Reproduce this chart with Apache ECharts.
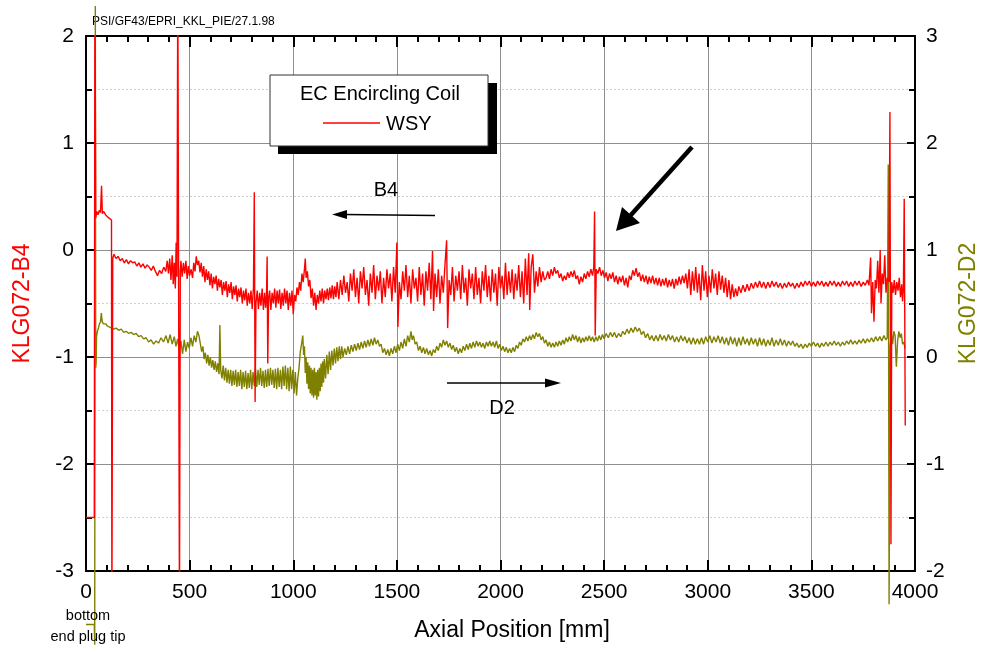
<!DOCTYPE html>
<html>
<head>
<meta charset="utf-8">
<script src="https://cdn.jsdelivr.net/npm/echarts@6/dist/echarts.min.js"></script>
<style>
html,body{margin:0;padding:0;background:#fff;}
#main{width:984px;height:652px;}
</style>
</head>
<body>
<div id="main"></div>
<script>
// ---- axis tick settings ----
const xTicks = [0, 500, 1000, 1500, 2000, 2500, 3000, 3500, 4000];
const leftTicks = [-3, -2, -1, 0, 1, 2];
const rightTicks = [-2, -1, 0, 1, 2, 3];

// ---- series: KLG072-B4 (left axis), [axial position mm, value] ----
const b4 = [
[0,-2.5],[40,-2.5],[43,2.6],[47,0.30],[52,0.36],[58,0.33],[64,0.37],[70,0.35],[75,0.6],[79,0.34],[86,0.36],[94,0.33],[102,0.32],[110,0.30],[118,0.31],[123,0.28],[125,-3.4],[129,-0.08],[135,-0.04],
[145,-0.08],[155,-0.06],[165,-0.10],[175,-0.08],[185,-0.12],[195,-0.09],[205,-0.13],[215,-0.10],[225,-0.12],[235,-0.11],[245,-0.15],[255,-0.12],[265,-0.16],[275,-0.13],[285,-0.17],[295,-0.14],[305,-0.16],[315,-0.19],[325,-0.15],[335,-0.20],[345,-0.24],[355,-0.19],[365,-0.22],[375,-0.16],[385,-0.20],[392,-0.10],[398,-0.22],[404,-0.08],[410,-0.28],[416,-0.05],[421,-0.32],[426,-0.12],[431,-0.36],[435,0.07],[439,-0.25],[443,2.6],[451,-3.4],[455,-0.2],
[458,-0.10],[464,-0.25],[470,-0.12],[476,-0.22],[482,-0.10],[488,-0.27],[494,-0.15],[500,-0.24],[507,-0.18],[514,-0.26],[520,-0.12],[526,-0.20],[532,-0.06],[538,-0.14],[544,-0.10],[550,-0.21],[556,-0.12],[562,-0.25],[568,-0.15],[574,-0.30],[580,-0.18],[586,-0.28],[592,-0.20],[598,-0.33],[604,-0.22],[610,-0.36],[616,-0.25],[622,-0.32],[628,-0.24],[634,-0.38],[640,-0.27],[646,-0.35],[652,-0.28],[658,-0.42],[664,-0.30],[670,-0.38],[676,-0.29],[682,-0.44],[688,-0.32],[694,-0.40],[700,-0.30],[706,-0.46],[712,-0.34],[718,-0.42],[724,-0.33],[730,-0.48],[736,-0.36],[742,-0.44],[748,-0.35],[754,-0.50],[760,-0.38],[766,-0.47],[772,-0.36],[778,-0.52],[784,-0.40],[790,-0.50],[796,-0.38],[802,-0.55],[808,-0.35],
[812,0.54],[816,-1.42],[820,-0.5],
[826,-0.38],[832,-0.55],[838,-0.40],[844,-0.52],[850,-0.36],[856,-0.56],[862,-0.40],[867,-0.54],[871,-0.42],[874,-0.06],[877,-1.06],[881,-0.45],[886,-0.38],[892,-0.56],[898,-0.40],[904,-0.50],[910,-0.36],[916,-0.54],[922,-0.38],[928,-0.50],[934,-0.37],[940,-0.55],[946,-0.40],[952,-0.52],[958,-0.36],[964,-0.50],[970,-0.38],[976,-0.56],[982,-0.40],[988,-0.52],[994,-0.38],[1000,-0.60],[1006,-0.42],[1012,-0.48],[1018,-0.35],[1024,-0.42],[1030,-0.30],[1036,-0.38],[1042,-0.22],[1048,-0.30],[1054,-0.18],[1058,-0.08],[1062,-0.26],[1068,-0.20],[1074,-0.34],[1080,-0.28],[1086,-0.45],[1092,-0.36],[1098,-0.52],[1104,-0.40],[1110,-0.56],[1116,-0.42],[1122,-0.50],[1128,-0.38],[1134,-0.48],[1140,-0.36],[1146,-0.50],[1152,-0.38],[1158,-0.46],[1164,-0.36],[1170,-0.47],[1176,-0.35],[1182,-0.45],[1188,-0.33],[1194,-0.46],[1200,-0.34],[1206,-0.44],
[1212,-0.30],[1220,-0.46],[1228,-0.28],[1236,-0.42],[1244,-0.24],[1252,-0.40],[1260,-0.30],[1268,-0.48],[1276,-0.22],[1284,-0.38],[1292,-0.18],[1300,-0.44],[1308,-0.26],[1316,-0.50],[1324,-0.20],[1332,-0.36],[1340,-0.16],[1348,-0.42],[1356,-0.28],[1364,-0.52],[1372,-0.22],[1380,-0.40],[1388,-0.14],[1396,-0.46],[1404,-0.24],[1412,-0.38],[1420,-0.20],[1428,-0.50],[1436,-0.26],[1444,-0.44],[1452,-0.18],[1460,-0.36],[1468,-0.22],[1476,-0.48],[1484,-0.16],[1492,-0.40],[1500,0.07],[1505,-0.72],[1512,-0.30],[1520,-0.46],[1528,-0.20],[1536,-0.38],[1544,-0.14],[1552,-0.44],[1560,-0.24],[1568,-0.50],[1576,-0.18],[1584,-0.36],[1592,-0.26],[1600,-0.48],[1608,-0.16],[1616,-0.42],[1624,-0.22],[1632,-0.52],[1640,-0.20],[1648,-0.38],[1656,-0.12],[1664,-0.46],[1672,-0.01],[1677,-0.57],[1684,-0.22],[1692,-0.44],[1700,-0.18],[1708,-0.50],[1716,-0.24],[1724,-0.40],[1732,-0.14],[1740,0.09],[1745,-0.73],[1752,-0.28],[1760,-0.42],[1768,-0.16],[1776,-0.48],[1784,-0.24],[1792,-0.38],[1800,-0.20],[1808,-0.46],[1816,-0.14],[1824,-0.40],[1832,-0.26],[1840,-0.52],[1848,-0.18],[1856,-0.36],[1864,-0.22],[1872,-0.46],[1880,-0.16],[1888,-0.42],[1896,-0.26],[1904,-0.50],[1912,-0.20],[1920,-0.38],[1928,-0.14],[1936,-0.44],[1944,-0.24],[1952,-0.48],[1960,-0.18],[1968,-0.40],[1976,-0.22],[1984,-0.52],[1992,-0.16],[2000,-0.36],[2008,-0.24],[2016,-0.46],[2024,-0.12],[2032,-0.42],[2040,-0.20],[2048,-0.40],[2056,-0.18],[2064,-0.46],[2072,-0.22],[2080,-0.38],[2088,-0.14],[2096,-0.44],[2104,-0.20],[2112,-0.50],[2120,-0.08],[2128,-0.42],[2136,-0.03],[2141,-0.56],[2148,-0.16],[2156,-0.04],[2164,-0.40],[2172,-0.20],[2180,-0.34],[2188,-0.16],[2196,-0.30],[2204,-0.20],[2212,-0.28],
[2220,-0.26],[2228,-0.20],[2236,-0.27],[2244,-0.18],[2252,-0.24],[2260,-0.16],[2268,-0.22],[2276,-0.19],[2284,-0.26],[2292,-0.22],[2300,-0.29],[2308,-0.24],[2316,-0.28],[2324,-0.21],[2332,-0.26],[2340,-0.20],[2348,-0.25],[2356,-0.19],[2364,-0.27],[2372,-0.24],[2380,-0.32],[2388,-0.25],[2396,-0.30],[2404,-0.22],[2412,-0.27],[2420,-0.20],[2428,-0.25],[2436,-0.18],[2444,-0.24],[2450,-0.16],[2454,0.36],[2457,-0.80],[2462,-0.18],[2470,-0.22],[2478,-0.16],[2486,-0.24],[2494,-0.19],[2502,-0.26],[2510,-0.21],[2518,-0.29],[2526,-0.22],[2534,-0.27],[2542,-0.21],[2550,-0.30],[2558,-0.24],[2566,-0.32],[2574,-0.25],[2582,-0.30],[2590,-0.24],[2598,-0.33],[2606,-0.26],[2614,-0.35],[2622,-0.24],[2630,-0.28],[2638,-0.19],[2646,-0.24],[2654,-0.17],[2662,-0.25],[2670,-0.21],[2678,-0.29],[2686,-0.23],[2694,-0.30],[2702,-0.24],[2710,-0.32],[2718,-0.25],[2726,-0.31],[2734,-0.24],[2742,-0.32],[2750,-0.26],[2758,-0.33],[2766,-0.26],[2774,-0.34],[2782,-0.27],[2790,-0.33],[2798,-0.26],[2806,-0.35],[2814,-0.28],[2822,-0.34],[2830,-0.27],[2838,-0.36],[2846,-0.27],[2854,-0.33],[2862,-0.25],[2870,-0.32],[2878,-0.24],[2886,-0.31],[2894,-0.22],[2902,-0.36],[2910,-0.18],[2918,-0.42],[2926,-0.20],[2934,-0.38],[2942,-0.16],[2950,-0.40],[2958,-0.22],[2966,-0.47],[2974,-0.14],[2982,-0.38],[2990,-0.20],[2998,-0.44],[3006,-0.24],[3014,-0.40],[3022,-0.18],[3030,-0.36],[3038,-0.22],[3046,-0.42],[3054,-0.20],[3062,-0.37],[3070,-0.24],[3078,-0.40],[3086,-0.26],[3094,-0.44],[3102,-0.28],[3110,-0.46],[3118,-0.32],[3126,-0.44],[3134,-0.36],[3142,-0.43],[3150,-0.34],[3160,-0.40],[3170,-0.33],[3180,-0.39],[3190,-0.32],[3200,-0.38],[3210,-0.31],[3220,-0.36],[3230,-0.30],[3240,-0.35],[3250,-0.29],[3260,-0.35],[3270,-0.30],[3280,-0.36],[3290,-0.30],[3300,-0.35],[3310,-0.29],[3320,-0.34],[3330,-0.30],[3340,-0.35],[3350,-0.31],[3360,-0.36],[3370,-0.31],[3380,-0.35],[3390,-0.30],[3400,-0.34],[3410,-0.31],[3420,-0.36],[3430,-0.31],[3440,-0.35],[3450,-0.30],[3460,-0.34],[3470,-0.29],[3480,-0.33],[3490,-0.29],[3500,-0.34],[3510,-0.30],[3520,-0.34],[3530,-0.29],[3540,-0.33],[3550,-0.29],[3560,-0.34],[3570,-0.30],[3580,-0.34],[3590,-0.29],[3600,-0.33],[3610,-0.29],[3620,-0.34],[3630,-0.30],[3640,-0.34],[3650,-0.29],[3660,-0.33],[3670,-0.29],[3680,-0.34],[3690,-0.30],[3700,-0.34],[3710,-0.29],[3720,-0.33],[3730,-0.29],[3740,-0.34],[3750,-0.30],[3760,-0.33],[3770,-0.28],[3778,-0.33],[3786,-0.07],[3790,-0.59],[3796,-0.30],[3802,-0.67],[3808,-0.28],[3814,-0.36],[3820,-0.10],[3826,-0.40],[3832,0.0],[3836,-0.50],[3842,-0.22],[3848,-0.32],[3854,-0.05],[3860,-0.40],[3866,-0.26],[3874,-0.30],[3879,1.29],[3884,-2.75],[3888,-0.30],[3894,-0.40],[3900,-0.28],[3906,-0.42],[3912,-0.30],[3918,-0.38],[3924,-0.26],[3930,-0.44],[3936,-0.32],[3940,-0.48],[3944,-0.36],[3948,0.48],[3953,-1.64]
];

// ---- series: KLG072-D2 (right axis), [axial position mm, value] ----
const d2 = [
[0,-2.5],[40,-2.5],[42,-2.69],[45,3.28],[47,-0.1],[49,-0.05],[51,0.19],[55,0.24],[60,0.27],[65,0.31],[70,0.33],[74,0.41],[78,0.33],[84,0.31],[90,0.30],[96,0.31],[102,0.29],[108,0.30],[114,0.28],
[122,0.29],[134,0.26],[146,0.27],[158,0.25],[170,0.26],[182,0.23],[194,0.24],[206,0.22],[218,0.23],[230,0.21],[242,0.22],[254,0.19],[266,0.20],[278,0.17],[290,0.18],[302,0.14],[314,0.16],[326,0.12],[338,0.15],[350,0.13],[362,0.18],[374,0.14],[386,0.20],[396,0.13],[406,0.21],[416,0.12],[426,0.19],[434,0.10],[442,0.17],[450,0.06],[458,0.15],[466,0.03],[474,0.16],[482,0.05],[490,0.14],[498,0.08],[506,0.18],[514,0.10],[522,0.20],[530,0.14],[538,0.24],[545,0.20],[552,0.12],[558,0.05],[564,0.10],[570,-0.02],[576,0.04],[582,-0.06],[588,0.02],[594,-0.08],[600,0.0],[606,-0.10],[612,-0.03],[618,-0.12],[624,-0.04],[630,-0.14],[636,-0.06],[642,-0.16],[646,0.30],[650,-0.12],[656,-0.20],[662,-0.08],[668,-0.22],[674,-0.10],[680,-0.24],[686,-0.12],[692,-0.25],[698,-0.12],[704,-0.27],[710,-0.13],[716,-0.26],[722,-0.12],[728,-0.28],[734,-0.14],[740,-0.27],[746,-0.12],[752,-0.30],[758,-0.14],[764,-0.28],[770,-0.13],[776,-0.30],[782,-0.15],[788,-0.29],[794,-0.12],[800,-0.30],[806,-0.14],[812,-0.27],[818,-0.11],[824,-0.28],[830,-0.12],[836,-0.26],[842,-0.10],[848,-0.27],[854,-0.13],[860,-0.29],[866,-0.12],[872,-0.28],[878,-0.11],[884,-0.27],[890,-0.10],[896,-0.26],[902,-0.12],[908,-0.29],[914,-0.11],[920,-0.30],[926,-0.10],[932,-0.28],[938,-0.12],[944,-0.30],[950,-0.09],[956,-0.27],[962,-0.08],[968,-0.30],[974,-0.10],[980,-0.32],[986,-0.09],[992,-0.30],[998,-0.12],[1004,-0.34],[1010,-0.14],[1016,-0.36],[1022,-0.20],[1028,-0.10],[1034,0.05],[1040,0.12],[1046,0.20],[1050,0.02],[1054,0.10],[1058,-0.15],[1062,0.0],[1066,-0.25],[1070,-0.05],[1074,-0.30],[1078,-0.08],[1082,-0.34],[1086,-0.10],[1090,-0.36],[1094,-0.12],[1098,-0.38],[1102,-0.10],[1106,-0.36],[1110,-0.14],[1114,-0.40],[1118,-0.12],[1122,-0.37],[1126,-0.10],[1130,-0.32],[1134,-0.06],[1138,-0.28],[1142,-0.04],[1146,-0.24],[1150,-0.02],[1156,-0.20],[1162,0.02],[1168,-0.16],[1174,0.05],[1180,-0.12],[1186,0.06],[1192,-0.08],[1198,0.08],[1204,-0.06],[1210,0.09],[1216,-0.04],[1222,0.10],[1228,-0.02],[1234,0.10],[1240,0.0],[1248,0.08],[1256,0.02],[1264,0.10],[1272,0.03],[1280,0.11],[1288,0.05],[1296,0.12],[1304,0.06],[1312,0.13],[1320,0.07],[1328,0.14],[1336,0.08],[1344,0.15],[1352,0.09],[1360,0.16],[1368,0.10],[1376,0.17],[1384,0.11],[1392,0.18],[1400,0.12],[1408,0.16],[1416,0.10],[1424,0.12],[1432,0.04],[1440,0.08],[1448,0.02],[1456,0.07],[1464,0.01],[1472,0.08],[1480,0.03],[1488,0.10],[1496,0.04],[1504,0.12],[1512,0.06],[1520,0.14],[1528,0.08],[1536,0.17],[1544,0.10],[1552,0.20],[1560,0.14],[1568,0.24],[1574,0.16],[1580,0.20],[1588,0.12],[1596,0.14],[1604,0.06],[1612,0.10],[1620,0.04],[1628,0.09],[1636,0.03],[1644,0.08],[1652,0.02],[1660,0.06],[1668,0.01],[1676,0.07],[1684,0.04],[1692,0.10],[1700,0.06],[1708,0.13],[1716,0.09],[1724,0.16],[1732,0.11],[1740,0.15],[1748,0.09],[1756,0.13],[1764,0.07],[1772,0.11],[1780,0.05],[1788,0.09],[1796,0.03],[1804,0.08],[1812,0.04],[1820,0.10],[1828,0.06],[1836,0.12],[1844,0.07],[1852,0.13],[1860,0.08],[1868,0.14],[1876,0.09],[1884,0.15],[1892,0.10],[1900,0.14],[1908,0.09],[1916,0.13],[1924,0.08],[1932,0.14],[1940,0.10],[1948,0.15],[1956,0.10],[1964,0.14],[1972,0.09],[1980,0.15],[1988,0.08],[1996,0.12],[2004,0.06],[2012,0.10],[2020,0.05],[2028,0.09],[2036,0.04],[2044,0.08],[2052,0.04],[2060,0.09],[2068,0.05],[2076,0.11],[2084,0.08],[2092,0.14],[2100,0.11],[2108,0.17],[2116,0.14],[2124,0.19],[2132,0.15],[2140,0.20],[2148,0.16],[2156,0.21],[2164,0.17],[2172,0.23],[2180,0.19],[2188,0.22],[2196,0.16],[2204,0.19],[2212,0.13],[2220,0.16],[2228,0.10],[2236,0.14],[2244,0.09],[2252,0.13],[2260,0.09],[2268,0.14],[2276,0.10],[2284,0.15],[2292,0.11],[2300,0.16],[2308,0.12],[2316,0.18],[2324,0.14],[2332,0.19],[2340,0.15],[2348,0.21],[2356,0.16],[2364,0.20],[2372,0.14],[2380,0.19],[2388,0.13],[2396,0.18],[2404,0.14],[2412,0.19],[2420,0.15],[2428,0.20],[2436,0.15],[2444,0.19],[2452,0.14],[2460,0.19],[2468,0.15],[2476,0.20],[2484,0.16],[2492,0.21],[2500,0.17],[2510,0.22],[2520,0.18],[2530,0.23],[2540,0.19],[2550,0.23],[2560,0.18],[2570,0.22],[2580,0.19],[2590,0.24],[2600,0.21],[2610,0.26],[2620,0.22],[2630,0.27],[2640,0.23],[2650,0.28],[2660,0.24],[2670,0.27],[2680,0.21],[2690,0.24],[2700,0.18],[2710,0.22],[2720,0.16],[2730,0.20],[2740,0.15],[2750,0.20],[2760,0.15],[2770,0.21],[2780,0.16],[2790,0.20],[2800,0.15],[2810,0.21],[2820,0.16],[2830,0.20],[2840,0.14],[2850,0.19],[2860,0.14],[2870,0.20],[2880,0.15],[2890,0.19],[2900,0.13],[2910,0.18],[2920,0.12],[2930,0.18],[2940,0.12],[2950,0.17],[2960,0.12],[2970,0.18],[2980,0.12],[2990,0.19],[3000,0.14],[3010,0.20],[3020,0.13],[3030,0.19],[3040,0.14],[3050,0.20],[3060,0.13],[3070,0.19],[3080,0.12],[3090,0.18],[3100,0.11],[3110,0.19],[3120,0.12],[3130,0.18],[3140,0.10],[3150,0.18],[3160,0.11],[3170,0.19],[3180,0.12],[3190,0.17],[3200,0.11],[3210,0.18],[3220,0.12],[3230,0.17],[3240,0.10],[3250,0.18],[3260,0.11],[3270,0.17],[3280,0.10],[3290,0.16],[3300,0.11],[3310,0.18],[3320,0.10],[3330,0.16],[3340,0.11],[3350,0.17],[3360,0.11],[3370,0.16],[3380,0.10],[3390,0.15],[3400,0.11],[3410,0.15],[3420,0.10],[3430,0.13],[3440,0.09],[3450,0.12],[3460,0.08],[3470,0.12],[3480,0.09],[3490,0.13],[3500,0.10],[3510,0.14],[3520,0.10],[3530,0.13],[3540,0.09],[3550,0.13],[3560,0.10],[3570,0.14],[3580,0.10],[3590,0.14],[3600,0.11],[3610,0.15],[3620,0.11],[3630,0.14],[3640,0.10],[3650,0.14],[3660,0.11],[3670,0.15],[3680,0.12],[3690,0.16],[3700,0.12],[3710,0.15],[3720,0.12],[3730,0.16],[3740,0.13],[3750,0.17],[3760,0.13],[3770,0.17],[3780,0.14],[3790,0.18],[3800,0.14],[3810,0.19],[3820,0.15],[3830,0.19],[3840,0.15],[3850,0.20],[3860,0.16],[3866,0.18],[3871,1.80],[3875,-2.31],[3880,0.10],[3886,0.22],[3892,0.12],[3898,0.24],[3904,0.20],[3910,-0.09],[3916,0.15],[3922,0.24],[3928,0.18],[3934,0.22],[3940,0.12],[3946,0.14],[3952,0.08]
];

const FONT = 'Liberation Sans, Arial, sans-serif';
const chart = echarts.init(document.getElementById('main'), null, {renderer: 'canvas'});

function xAxisCfg(pos, labels) {
  return {
    type: 'value', position: pos, min: xTicks[0], max: xTicks[xTicks.length - 1], interval: xTicks[1] - xTicks[0],
    axisLine: {show: true, onZero: false, lineStyle: {color: '#000', width: 2}},
    axisTick: {show: true, inside: true, length: 11, lineStyle: {color: '#000', width: 2}},
    minorTick: {show: true, splitNumber: 5, length: 6, lineStyle: {color: '#000', width: 2}},
    axisLabel: {show: labels, color: '#000', fontSize: 21, fontFamily: FONT, margin: 11,
      formatter: function (v) { return String(v); }},
    splitLine: {show: labels, lineStyle: {color: '#8f8f8f', width: 1}},
    name: labels ? 'Axial Position [mm]' : '', nameLocation: 'middle', nameGap: 48,
    nameTextStyle: {color: '#000', fontSize: 23, fontFamily: FONT, padding: [0, 0, 0, 23]}
  };
}

chart.setOption({
  animation: false,
  backgroundColor: '#fff',
  grid: {left: 86, right: 69, top: 36, bottom: 81, containLabel: false, outerBoundsMode: 'none'},
  xAxis: [xAxisCfg('bottom', true), xAxisCfg('top', false)],
  yAxis: [{
    type: 'value', position: 'left', min: leftTicks[0], max: leftTicks[leftTicks.length - 1], interval: 1,
    axisLine: {show: true, onZero: false, lineStyle: {color: '#000', width: 2}},
    axisTick: {show: true, inside: true, length: 8, lineStyle: {color: '#000', width: 2}},
    minorTick: {show: true, splitNumber: 2, length: 6, lineStyle: {color: '#000', width: 2}},
    axisLabel: {color: '#000', fontSize: 21, fontFamily: FONT, margin: 12},
    splitLine: {show: true, lineStyle: {color: '#8f8f8f', width: 1}},
    minorSplitLine: {show: true, lineStyle: {color: '#d0d0d0', width: 1, type: [2, 2]}},
    name: 'KLG072-B4', nameLocation: 'middle', nameGap: 52, nameRotate: 90,
    nameTextStyle: {color: '#ff0000', fontSize: 23, fontFamily: FONT}
  }, {
    type: 'value', position: 'right', min: rightTicks[0], max: rightTicks[rightTicks.length - 1], interval: 1,
    axisLine: {show: true, onZero: false, lineStyle: {color: '#000', width: 2}},
    axisTick: {show: true, inside: true, length: 8, lineStyle: {color: '#000', width: 2}},
    minorTick: {show: true, splitNumber: 2, length: 6, lineStyle: {color: '#000', width: 2}},
    axisLabel: {color: '#000', fontSize: 21, fontFamily: FONT, margin: 11},
    splitLine: {show: false},
    name: 'KLG072-D2', nameLocation: 'middle', nameGap: 42, nameRotate: 90,
    nameTextStyle: {color: '#808000', fontSize: 23, fontFamily: FONT}
  }],
  series: [{
    name: 'KLG072-D2', type: 'line', xAxisIndex: 0, yAxisIndex: 1, data: d2,
    showSymbol: false, symbol: 'none', clip: false, z: 2,
    lineStyle: {color: '#808000', width: 1.4}
  }, {
    name: 'WSY', type: 'line', xAxisIndex: 0, yAxisIndex: 0, data: b4,
    showSymbol: false, symbol: 'none', clip: true, z: 3,
    lineStyle: {color: '#ff0000', width: 1.4}
  }],
  graphic: [
    {type: 'text', left: 92, top: 16, style: {text: 'PSI/GF43/EPRI_KKL_PIE/27.1.98', fontSize: 12, fontFamily: FONT, fill: '#000'}},
    {type: 'rect', shape: {x: 278, y: 83, width: 219, height: 71}, style: {fill: '#000'}, z: 10},
    {type: 'rect', shape: {x: 270, y: 75, width: 218, height: 71}, style: {fill: '#fff', stroke: '#333', lineWidth: 1}, z: 11},
    {type: 'text', x: 380, y: 94, style: {text: 'EC Encircling Coil', fontSize: 20, fontFamily: FONT, fill: '#000', textAlign: 'center', textVerticalAlign: 'middle'}, z: 12},
    {type: 'line', shape: {x1: 323, y1: 123, x2: 380, y2: 123}, style: {stroke: '#ff0000', lineWidth: 1.3}, z: 12},
    {type: 'text', x: 386, y: 124, style: {text: 'WSY', fontSize: 20, fontFamily: FONT, fill: '#000', textAlign: 'left', textVerticalAlign: 'middle'}, z: 12},
    {type: 'text', x: 386, y: 190, style: {text: 'B4', fontSize: 20, fontFamily: FONT, fill: '#000', textAlign: 'center', textVerticalAlign: 'middle'}, z: 12},
    {type: 'line', shape: {x1: 435, y1: 215.5, x2: 344, y2: 214.5}, style: {stroke: '#000', lineWidth: 1.5}, z: 12},
    {type: 'polygon', shape: {points: [[332, 214.5], [347, 210], [347, 219]]}, style: {fill: '#000'}, z: 12},
    {type: 'text', x: 502, y: 408, style: {text: 'D2', fontSize: 20, fontFamily: FONT, fill: '#000', textAlign: 'center', textVerticalAlign: 'middle'}, z: 12},
    {type: 'line', shape: {x1: 447, y1: 383, x2: 548, y2: 383}, style: {stroke: '#000', lineWidth: 1.5}, z: 12},
    {type: 'polygon', shape: {points: [[561, 383], [545, 378.5], [545, 387.5]]}, style: {fill: '#000'}, z: 12},
    {type: 'line', shape: {x1: 692, y1: 147, x2: 630, y2: 216}, style: {stroke: '#000', lineWidth: 4.5}, z: 12},
    {type: 'polygon', shape: {points: [[616, 231], [622, 207], [640, 223]]}, style: {fill: '#000'}, z: 12},
    {type: 'text', x: 88, y: 616, style: {text: 'bottom', fontSize: 14.5, fontFamily: FONT, fill: '#000', textAlign: 'center', textVerticalAlign: 'middle'}, z: 12},
    {type: 'text', x: 88, y: 637, style: {text: 'end plug tip', fontSize: 14.5, fontFamily: FONT, fill: '#000', textAlign: 'center', textVerticalAlign: 'middle'}, z: 12}
  ]
});
</script>
</body>
</html>
